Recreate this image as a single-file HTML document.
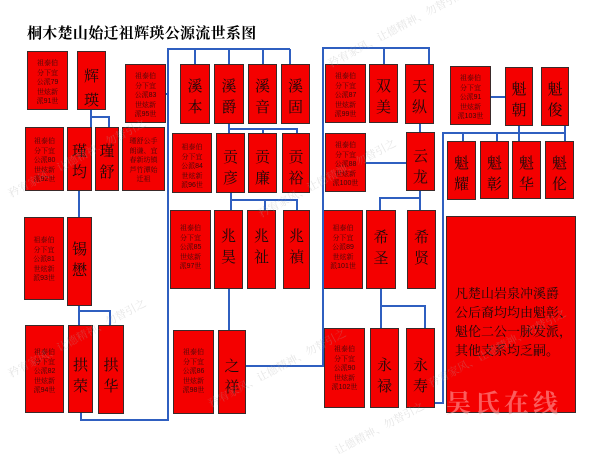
<!DOCTYPE html>
<html><head><meta charset="utf-8"><style>
body{margin:0;width:600px;height:461px;background:#fff;position:relative;overflow:hidden;font-family:"Liberation Sans","Noto Serif CJK SC","Noto Sans CJK SC",serif;}
.b{position:absolute;background:#f40000;border:1px solid #3a2a2a;box-sizing:border-box;color:#1a0a0a;text-align:center;}
.n{font-size:15px;line-height:21px;padding-top:10px;font-family:"Noto Serif CJK SC","WenQuanYi Zen Hei",serif;}
.t{font-size:7px;line-height:9.6px;padding-top:7px;color:#3a0a0a;}
.title{position:absolute;left:27px;top:22px;font-size:15px;font-weight:bold;font-family:"Noto Serif CJK SC","Noto Sans CJK SC",serif;letter-spacing:0.3px;}
.wm{position:absolute;color:rgba(170,170,170,0.3);font-size:11px;transform:rotate(-28deg);white-space:nowrap;font-family:"Noto Serif CJK SC",serif;}
svg{position:absolute;left:0;top:0;}
</style></head><body>
<div class="title">桐木楚山始迁祖辉瑛公源流世系图</div>

<div class="b t" style="left:27px;top:51px;width:41px;height:59px">祖泰伯<br>分下宜<br>公派79<br>世炫新<br>派91世</div>
<div class="b n" style="left:77px;top:51px;width:29px;height:59px;padding-top:12px;line-height:24px">辉<br>瑛</div>
<div class="b t" style="left:125px;top:64px;width:41px;height:59px">祖泰伯<br>分下宜<br>公派83<br>世炫新<br>派95世</div>
<div class="b n" style="left:180px;top:64px;width:30px;height:60px">溪<br>本</div>
<div class="b n" style="left:214px;top:64px;width:30px;height:60px">溪<br>爵</div>
<div class="b n" style="left:248px;top:64px;width:29px;height:60px">溪<br>音</div>
<div class="b n" style="left:281px;top:64px;width:29px;height:60px">溪<br>固</div>
<div class="b t" style="left:325px;top:64px;width:41px;height:59px">祖泰伯<br>分下宜<br>公派87<br>世炫新<br>派99世</div>
<div class="b n" style="left:369px;top:64px;width:29px;height:59px">双<br>美</div>
<div class="b n" style="left:405px;top:64px;width:29px;height:60px">天<br>纵</div>
<div class="b t" style="left:450px;top:66px;width:41px;height:59px">祖泰伯<br>分下宜<br>公派91<br>世炫新<br>派103世</div>
<div class="b n" style="left:505px;top:67px;width:28px;height:59px">魁<br>朝</div>
<div class="b n" style="left:541px;top:67px;width:28px;height:59px">魁<br>俊</div>

<div class="b t" style="left:25px;top:127px;width:39px;height:64px;padding-top:9px">祖泰伯<br>分下宜<br>公派80<br>世炫新<br>派92世</div>
<div class="b n" style="left:67px;top:127px;width:25px;height:64px;padding-top:12px">瑾<br>均</div>
<div class="b n" style="left:95px;top:127px;width:24px;height:64px;padding-top:12px">瑾<br>舒</div>
<div class="b t" style="left:122px;top:127px;width:43px;height:64px;padding-top:9px">瑾舒公手<br>朗谦、宜<br>春新坊镇<br>芦竹潭始<br>迁祖</div>
<div class="b t" style="left:172px;top:133px;width:40px;height:60px;padding-top:9px">祖泰伯<br>分下宜<br>公派84<br>世炫新<br>派96世</div>
<div class="b n" style="left:216px;top:133px;width:29px;height:60px;padding-top:12px">贡<br>彦</div>
<div class="b n" style="left:248px;top:133px;width:29px;height:60px;padding-top:12px">贡<br>廉</div>
<div class="b n" style="left:282px;top:133px;width:28px;height:60px;padding-top:12px">贡<br>裕</div>
<div class="b t" style="left:325px;top:133px;width:41px;height:59px">祖泰伯<br>分下宜<br>公派88<br>世炫新<br>派100世</div>
<div class="b n" style="left:406px;top:132px;width:29px;height:59px;padding-top:12px">云<br>龙</div>
<div class="b n" style="left:447px;top:141px;width:29px;height:59px">魁<br>耀</div>
<div class="b n" style="left:480px;top:141px;width:29px;height:58px">魁<br>彰</div>
<div class="b n" style="left:512px;top:141px;width:29px;height:58px">魁<br>华</div>
<div class="b n" style="left:545px;top:141px;width:29px;height:58px">魁<br>伦</div>

<div class="b t" style="left:24px;top:217px;width:40px;height:83px;padding-top:18px">祖泰伯<br>分下宜<br>公派81<br>世炫新<br>派93世</div>
<div class="b n" style="left:67px;top:217px;width:25px;height:89px;padding-top:20px">锡<br>懋</div>
<div class="b t" style="left:170px;top:210px;width:41px;height:79px;padding-top:13px">祖泰伯<br>分下宜<br>公派85<br>世炫新<br>派97世</div>
<div class="b n" style="left:214px;top:210px;width:29px;height:79px;padding-top:14px">兆<br>昊</div>
<div class="b n" style="left:247px;top:210px;width:29px;height:79px;padding-top:14px">兆<br>祉</div>
<div class="b n" style="left:283px;top:210px;width:27px;height:79px;padding-top:14px">兆<br>禎</div>
<div class="b t" style="left:323px;top:210px;width:40px;height:79px;padding-top:13px">祖泰伯<br>分下宜<br>公派89<br>世炫新<br>派101世</div>
<div class="b n" style="left:366px;top:210px;width:30px;height:79px;padding-top:15px">希<br>圣</div>
<div class="b n" style="left:407px;top:210px;width:29px;height:79px;padding-top:15px">希<br>贤</div>

<div class="b t" style="left:25px;top:325px;width:39px;height:88px;padding-top:22px">祖泰伯<br>分下宜<br>公派82<br>世炫新<br>派94世</div>
<div class="b n" style="left:68px;top:325px;width:25px;height:88px;padding-top:28px">拱<br>荣</div>
<div class="b n" style="left:98px;top:325px;width:26px;height:89px;padding-top:28px">拱<br>华</div>
<div class="b t" style="left:173px;top:330px;width:41px;height:84px;padding-top:17px">祖泰伯<br>分下宜<br>公派86<br>世炫新<br>派98世</div>
<div class="b n" style="left:218px;top:330px;width:28px;height:84px;padding-top:24px">之<br>祥</div>
<div class="b t" style="left:324px;top:328px;width:41px;height:80px;padding-top:16px">祖泰伯<br>分下宜<br>公派90<br>世炫新<br>派102世</div>
<div class="b n" style="left:370px;top:328px;width:29px;height:80px;padding-top:25px">永<br>禄</div>
<div class="b n" style="left:406px;top:328px;width:29px;height:80px;padding-top:25px">永<br>寿</div>

<div class="b" style="left:446px;top:216px;width:130px;height:197px;text-align:left;font-size:13px;line-height:19px;padding:66px 0 0 8px;font-family:'Noto Serif CJK SC',serif;">凡楚山岩泉冲溪爵<br>公后裔均均由魁彰、<br>魁伦二公一脉发派，<br>其他支系均乏嗣。</div>
<div style="position:absolute;left:446px;top:384px;font-size:25px;font-weight:bold;color:rgba(255,170,170,0.55);letter-spacing:4px;font-family:'Noto Serif CJK SC',serif;">吴氏在线</div>

<svg width="600" height="461"><g fill="none" stroke="#2f5fc0" stroke-width="2">
<polyline points="91,110 91,127"/><polyline points="91,117 109,117 109,127"/>
<polyline points="79,191 79,217"/>
<polyline points="79,306 79,325"/><polyline points="79,311 110,311 110,325"/>
<polyline points="81,413 81,420 168,420 168,49 290,49"/>
<polyline points="195,49 195,64"/><polyline points="229,49 229,64"/><polyline points="263,49 263,64"/><polyline points="290,49 290,64"/>
<polyline points="166,94 168,94"/>
<polyline points="229,124 229,133"/><polyline points="229,129 297,129 297,133"/><polyline points="263,129 263,133"/>
<polyline points="231,193 231,210"/><polyline points="231,200 297,200 297,210"/><polyline points="265,200 265,210"/>
<polyline points="229,289 229,330"/>
<polyline points="246,366 323,366 323,48 429,48 429,64"/><polyline points="384,48 384,64"/>
<polyline points="366,163 406,163"/>
<polyline points="420,124 420,132"/>
<polyline points="420,191 420,210"/><polyline points="420,198 380,198 380,210"/>
<polyline points="381,289 381,328"/><polyline points="381,306 425,306 425,328"/>
<polyline points="435,403 443,403 443,133 565,133"/>
<polyline points="463,133 463,141"/><polyline points="497,133 497,141"/><polyline points="519,126 519,141"/><polyline points="565,126 565,141"/>
<polyline points="491,97 505,97"/>
</g></svg>

<div class="wm" style="left:320px;top:20px">矜宥家风、让德精神、勿替引之</div>
<div class="wm" style="left:0px;top:150px">矜宥家风、让德精神、勿替引之</div>
<div class="wm" style="left:250px;top:170px">矜宥家风、让德精神、勿替引之</div>
<div class="wm" style="left:0px;top:330px">矜宥家风、让德精神、勿替引之</div>
<div class="wm" style="left:200px;top:360px">矜宥家风、让德精神、勿替引之</div>
<div class="wm" style="left:420px;top:340px">矜宥家风、让德精神、勿替引之</div>
<div class="wm" style="left:330px;top:420px">让德精神、勿替引之</div>
</body></html>
